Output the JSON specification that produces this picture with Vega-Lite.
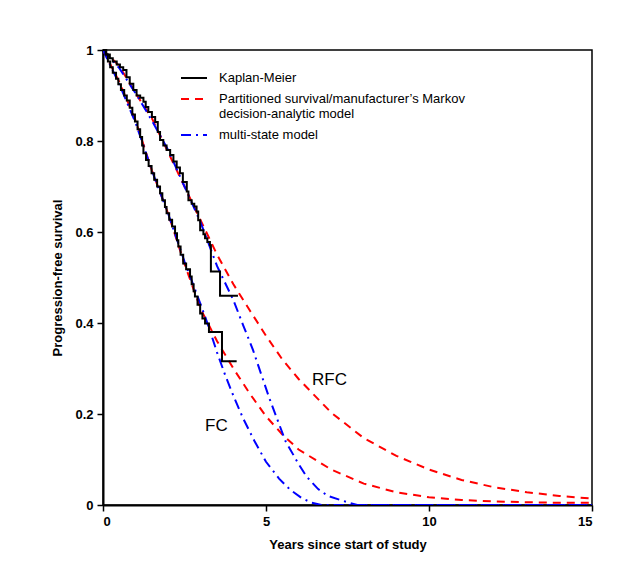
{
  "$schema": "https://vega.github.io/schema/vega-lite/v6.json",
  "width": 489,
  "height": 455,
  "autosize": {"type": "none"},
  "padding": {"left": 103, "top": 50, "right": 49, "bottom": 69},
  "background": "white",
  "config": {
    "font": "Liberation Sans",
    "view": {"stroke": "black", "strokeWidth": 1.5},
    "axis": {
      "grid": false,
      "domainColor": "black",
      "domainWidth": 2,
      "tickColor": "black",
      "tickWidth": 1.5,
      "tickSize": 6,
      "labelFont": "Liberation Sans",
      "labelFontWeight": "bold",
      "labelFontSize": 13,
      "labelColor": "black",
      "labelPadding": 4,
      "titleFont": "Liberation Sans",
      "titleFontWeight": "bold",
      "titleFontSize": 13,
      "titleColor": "black"
    }
  },
  "datasets": {
    "km": [
      {"arm": "FC", "model": "KM", "t": 0, "s": 1},
      {"arm": "FC", "model": "KM", "t": 0.08, "s": 0.99},
      {"arm": "FC", "model": "KM", "t": 0.15, "s": 0.975},
      {"arm": "FC", "model": "KM", "t": 0.22, "s": 0.962},
      {"arm": "FC", "model": "KM", "t": 0.3, "s": 0.95},
      {"arm": "FC", "model": "KM", "t": 0.4, "s": 0.937},
      {"arm": "FC", "model": "KM", "t": 0.47, "s": 0.925},
      {"arm": "FC", "model": "KM", "t": 0.55, "s": 0.912},
      {"arm": "FC", "model": "KM", "t": 0.65, "s": 0.9},
      {"arm": "FC", "model": "KM", "t": 0.73, "s": 0.889},
      {"arm": "FC", "model": "KM", "t": 0.82, "s": 0.873},
      {"arm": "FC", "model": "KM", "t": 0.9, "s": 0.858},
      {"arm": "FC", "model": "KM", "t": 0.98, "s": 0.843},
      {"arm": "FC", "model": "KM", "t": 1.06, "s": 0.826},
      {"arm": "FC", "model": "KM", "t": 1.14, "s": 0.809},
      {"arm": "FC", "model": "KM", "t": 1.2, "s": 0.79},
      {"arm": "FC", "model": "KM", "t": 1.24, "s": 0.773},
      {"arm": "FC", "model": "KM", "t": 1.32, "s": 0.758},
      {"arm": "FC", "model": "KM", "t": 1.4, "s": 0.745},
      {"arm": "FC", "model": "KM", "t": 1.49, "s": 0.729},
      {"arm": "FC", "model": "KM", "t": 1.57, "s": 0.715},
      {"arm": "FC", "model": "KM", "t": 1.66, "s": 0.7},
      {"arm": "FC", "model": "KM", "t": 1.75, "s": 0.685},
      {"arm": "FC", "model": "KM", "t": 1.82, "s": 0.67},
      {"arm": "FC", "model": "KM", "t": 1.9, "s": 0.655},
      {"arm": "FC", "model": "KM", "t": 1.95, "s": 0.641},
      {"arm": "FC", "model": "KM", "t": 2.03, "s": 0.627},
      {"arm": "FC", "model": "KM", "t": 2.12, "s": 0.612},
      {"arm": "FC", "model": "KM", "t": 2.21, "s": 0.597},
      {"arm": "FC", "model": "KM", "t": 2.27, "s": 0.582},
      {"arm": "FC", "model": "KM", "t": 2.31, "s": 0.568},
      {"arm": "FC", "model": "KM", "t": 2.38, "s": 0.55},
      {"arm": "FC", "model": "KM", "t": 2.46, "s": 0.531},
      {"arm": "FC", "model": "KM", "t": 2.55, "s": 0.518},
      {"arm": "FC", "model": "KM", "t": 2.67, "s": 0.502},
      {"arm": "FC", "model": "KM", "t": 2.72, "s": 0.485},
      {"arm": "FC", "model": "KM", "t": 2.78, "s": 0.47},
      {"arm": "FC", "model": "KM", "t": 2.82, "s": 0.458},
      {"arm": "FC", "model": "KM", "t": 2.9, "s": 0.44},
      {"arm": "FC", "model": "KM", "t": 2.98, "s": 0.421},
      {"arm": "FC", "model": "KM", "t": 3.05, "s": 0.41},
      {"arm": "FC", "model": "KM", "t": 3.13, "s": 0.399},
      {"arm": "FC", "model": "KM", "t": 3.25, "s": 0.38},
      {"arm": "FC", "model": "KM", "t": 3.65, "s": 0.316},
      {"arm": "FC", "model": "KM", "t": 4.1, "s": 0.316},
      {"arm": "RFC", "model": "KM", "t": 0, "s": 1},
      {"arm": "RFC", "model": "KM", "t": 0.1, "s": 0.99},
      {"arm": "RFC", "model": "KM", "t": 0.21, "s": 0.982},
      {"arm": "RFC", "model": "KM", "t": 0.3, "s": 0.975},
      {"arm": "RFC", "model": "KM", "t": 0.42, "s": 0.968},
      {"arm": "RFC", "model": "KM", "t": 0.52, "s": 0.962},
      {"arm": "RFC", "model": "KM", "t": 0.62, "s": 0.956},
      {"arm": "RFC", "model": "KM", "t": 0.72, "s": 0.94},
      {"arm": "RFC", "model": "KM", "t": 0.82, "s": 0.926},
      {"arm": "RFC", "model": "KM", "t": 0.93, "s": 0.912},
      {"arm": "RFC", "model": "KM", "t": 1.03, "s": 0.9},
      {"arm": "RFC", "model": "KM", "t": 1.14, "s": 0.895},
      {"arm": "RFC", "model": "KM", "t": 1.24, "s": 0.886},
      {"arm": "RFC", "model": "KM", "t": 1.31, "s": 0.875},
      {"arm": "RFC", "model": "KM", "t": 1.39, "s": 0.864},
      {"arm": "RFC", "model": "KM", "t": 1.5, "s": 0.853},
      {"arm": "RFC", "model": "KM", "t": 1.6, "s": 0.842},
      {"arm": "RFC", "model": "KM", "t": 1.68, "s": 0.82},
      {"arm": "RFC", "model": "KM", "t": 1.75, "s": 0.802},
      {"arm": "RFC", "model": "KM", "t": 1.85, "s": 0.79},
      {"arm": "RFC", "model": "KM", "t": 1.95, "s": 0.78},
      {"arm": "RFC", "model": "KM", "t": 2.06, "s": 0.769},
      {"arm": "RFC", "model": "KM", "t": 2.16, "s": 0.755},
      {"arm": "RFC", "model": "KM", "t": 2.26, "s": 0.742},
      {"arm": "RFC", "model": "KM", "t": 2.36, "s": 0.729},
      {"arm": "RFC", "model": "KM", "t": 2.45, "s": 0.71},
      {"arm": "RFC", "model": "KM", "t": 2.57, "s": 0.689},
      {"arm": "RFC", "model": "KM", "t": 2.62, "s": 0.67},
      {"arm": "RFC", "model": "KM", "t": 2.72, "s": 0.662},
      {"arm": "RFC", "model": "KM", "t": 2.8, "s": 0.656},
      {"arm": "RFC", "model": "KM", "t": 2.87, "s": 0.645},
      {"arm": "RFC", "model": "KM", "t": 2.92, "s": 0.626},
      {"arm": "RFC", "model": "KM", "t": 2.98, "s": 0.604},
      {"arm": "RFC", "model": "KM", "t": 3.08, "s": 0.595},
      {"arm": "RFC", "model": "KM", "t": 3.13, "s": 0.586},
      {"arm": "RFC", "model": "KM", "t": 3.2, "s": 0.578},
      {"arm": "RFC", "model": "KM", "t": 3.28, "s": 0.571},
      {"arm": "RFC", "model": "KM", "t": 3.31, "s": 0.513},
      {"arm": "RFC", "model": "KM", "t": 3.59, "s": 0.46},
      {"arm": "RFC", "model": "KM", "t": 4.14, "s": 0.46}
    ],
    "models": [
      {"arm": "FC", "model": "PS", "t": 0, "s": 1},
      {"arm": "FC", "model": "PS", "t": 0.5, "s": 0.93},
      {"arm": "FC", "model": "PS", "t": 1, "s": 0.845},
      {"arm": "FC", "model": "PS", "t": 1.5, "s": 0.735},
      {"arm": "FC", "model": "PS", "t": 2, "s": 0.64},
      {"arm": "FC", "model": "PS", "t": 2.5, "s": 0.53},
      {"arm": "FC", "model": "PS", "t": 3, "s": 0.43},
      {"arm": "FC", "model": "PS", "t": 3.5, "s": 0.36},
      {"arm": "FC", "model": "PS", "t": 4, "s": 0.3},
      {"arm": "FC", "model": "PS", "t": 4.5, "s": 0.245},
      {"arm": "FC", "model": "PS", "t": 5, "s": 0.195},
      {"arm": "FC", "model": "PS", "t": 5.5, "s": 0.155},
      {"arm": "FC", "model": "PS", "t": 6, "s": 0.122},
      {"arm": "FC", "model": "PS", "t": 7, "s": 0.078},
      {"arm": "FC", "model": "PS", "t": 8, "s": 0.047},
      {"arm": "FC", "model": "PS", "t": 9, "s": 0.028},
      {"arm": "FC", "model": "PS", "t": 10, "s": 0.017},
      {"arm": "FC", "model": "PS", "t": 11, "s": 0.011},
      {"arm": "FC", "model": "PS", "t": 12, "s": 0.008},
      {"arm": "FC", "model": "PS", "t": 13, "s": 0.006},
      {"arm": "FC", "model": "PS", "t": 14, "s": 0.005},
      {"arm": "FC", "model": "PS", "t": 15, "s": 0.005},
      {"arm": "RFC", "model": "PS", "t": 0, "s": 1},
      {"arm": "RFC", "model": "PS", "t": 0.5, "s": 0.965},
      {"arm": "RFC", "model": "PS", "t": 1, "s": 0.905},
      {"arm": "RFC", "model": "PS", "t": 1.5, "s": 0.85},
      {"arm": "RFC", "model": "PS", "t": 2, "s": 0.775},
      {"arm": "RFC", "model": "PS", "t": 2.5, "s": 0.7},
      {"arm": "RFC", "model": "PS", "t": 3, "s": 0.625},
      {"arm": "RFC", "model": "PS", "t": 3.5, "s": 0.55},
      {"arm": "RFC", "model": "PS", "t": 4, "s": 0.485},
      {"arm": "RFC", "model": "PS", "t": 4.5, "s": 0.428},
      {"arm": "RFC", "model": "PS", "t": 5, "s": 0.372},
      {"arm": "RFC", "model": "PS", "t": 5.5, "s": 0.32},
      {"arm": "RFC", "model": "PS", "t": 6, "s": 0.277},
      {"arm": "RFC", "model": "PS", "t": 7, "s": 0.203},
      {"arm": "RFC", "model": "PS", "t": 8, "s": 0.147},
      {"arm": "RFC", "model": "PS", "t": 9, "s": 0.108},
      {"arm": "RFC", "model": "PS", "t": 10, "s": 0.078},
      {"arm": "RFC", "model": "PS", "t": 11, "s": 0.055},
      {"arm": "RFC", "model": "PS", "t": 12, "s": 0.039},
      {"arm": "RFC", "model": "PS", "t": 13, "s": 0.028},
      {"arm": "RFC", "model": "PS", "t": 14, "s": 0.02},
      {"arm": "RFC", "model": "PS", "t": 15, "s": 0.014},
      {"arm": "FC", "model": "MS", "t": 0, "s": 1},
      {"arm": "FC", "model": "MS", "t": 0.5, "s": 0.925},
      {"arm": "FC", "model": "MS", "t": 1, "s": 0.84},
      {"arm": "FC", "model": "MS", "t": 1.5, "s": 0.735},
      {"arm": "FC", "model": "MS", "t": 2, "s": 0.64},
      {"arm": "FC", "model": "MS", "t": 2.5, "s": 0.535},
      {"arm": "FC", "model": "MS", "t": 3, "s": 0.44},
      {"arm": "FC", "model": "MS", "t": 3.25, "s": 0.39},
      {"arm": "FC", "model": "MS", "t": 3.5, "s": 0.335},
      {"arm": "FC", "model": "MS", "t": 3.75, "s": 0.285},
      {"arm": "FC", "model": "MS", "t": 4, "s": 0.24},
      {"arm": "FC", "model": "MS", "t": 4.3, "s": 0.19},
      {"arm": "FC", "model": "MS", "t": 4.65, "s": 0.14},
      {"arm": "FC", "model": "MS", "t": 5, "s": 0.095},
      {"arm": "FC", "model": "MS", "t": 5.4, "s": 0.058},
      {"arm": "FC", "model": "MS", "t": 5.75, "s": 0.033},
      {"arm": "FC", "model": "MS", "t": 6.1, "s": 0.015},
      {"arm": "FC", "model": "MS", "t": 6.4, "s": 0.005},
      {"arm": "FC", "model": "MS", "t": 6.7, "s": 0},
      {"arm": "FC", "model": "MS", "t": 15, "s": 0},
      {"arm": "RFC", "model": "MS", "t": 0, "s": 1},
      {"arm": "RFC", "model": "MS", "t": 0.5, "s": 0.96},
      {"arm": "RFC", "model": "MS", "t": 1, "s": 0.905},
      {"arm": "RFC", "model": "MS", "t": 1.5, "s": 0.845},
      {"arm": "RFC", "model": "MS", "t": 2, "s": 0.78},
      {"arm": "RFC", "model": "MS", "t": 2.5, "s": 0.7},
      {"arm": "RFC", "model": "MS", "t": 3, "s": 0.62},
      {"arm": "RFC", "model": "MS", "t": 3.5, "s": 0.525},
      {"arm": "RFC", "model": "MS", "t": 4, "s": 0.45},
      {"arm": "RFC", "model": "MS", "t": 4.3, "s": 0.395},
      {"arm": "RFC", "model": "MS", "t": 4.6, "s": 0.341},
      {"arm": "RFC", "model": "MS", "t": 5.1, "s": 0.235},
      {"arm": "RFC", "model": "MS", "t": 5.6, "s": 0.14},
      {"arm": "RFC", "model": "MS", "t": 6, "s": 0.09},
      {"arm": "RFC", "model": "MS", "t": 6.25, "s": 0.062},
      {"arm": "RFC", "model": "MS", "t": 6.6, "s": 0.035},
      {"arm": "RFC", "model": "MS", "t": 6.9, "s": 0.02},
      {"arm": "RFC", "model": "MS", "t": 7.5, "s": 0.006},
      {"arm": "RFC", "model": "MS", "t": 7.8, "s": 0},
      {"arm": "RFC", "model": "MS", "t": 15, "s": 0}
    ],
    "labels": [
      {"label": "RFC", "t": 6.41, "s": 0.275},
      {"label": "FC", "t": 3.13, "s": 0.174}
    ]
  },
  "encoding": {
    "x": {
      "field": "t", "type": "quantitative",
      "scale": {"domain": [0, 15], "nice": false},
      "axis": {"values": [0, 5, 10, 15], "title": "Years since start of study", "titlePadding": 10}
    },
    "y": {
      "field": "s", "type": "quantitative",
      "scale": {"domain": [0, 1], "nice": false},
      "axis": {"values": [0, 0.2, 0.4, 0.6, 0.8, 1], "format": "~g", "title": "Progression-free survival", "titlePadding": 10}
    }
  },
  "layer": [
    {
      "data": {"name": "models"},
      "mark": {"type": "line", "strokeWidth": 2, "clip": true},
      "encoding": {
        "color": {
          "field": "model", "type": "nominal",
          "scale": {"domain": ["KM", "PS", "MS"], "range": ["black", "#ff0000", "#0000ff"]},
          "legend": {
            "title": null,
            "orient": "none",
            "legendX": 77,
            "legendY": 14,
            "symbolType": "stroke",
            "symbolSize": 676,
            "symbolStrokeWidth": 2,
            "labelFont": "Liberation Sans",
            "labelFontSize": 13,
            "labelColor": "black",
            "labelOffset": 11,
            "labelLimit": 400,
            "rowPadding": 0,
            "labelBaseline": "middle",
            "labelExpr": "datum.value == 'KM' ? 'Kaplan-Meier' : datum.value == 'PS' ? ['Partitioned survival/manufacturer\u2019s Markov', 'decision-analytic model'] : 'multi-state model'"
          }
        },
        "strokeDash": {
          "field": "model", "type": "nominal",
          "scale": {"domain": ["KM", "PS", "MS"], "range": [[1, 0], [8, 6], [10, 5, 2, 5]]},
          "legend": null
        },
        "detail": {"field": "arm"}
      }
    },
    {
      "data": {"name": "km"},
      "mark": {"type": "line", "interpolate": "step-after", "strokeWidth": 2, "color": "black"},
      "encoding": {
        "detail": {"field": "arm"}
      }
    },
    {
      "data": {"name": "labels"},
      "mark": {"type": "text", "align": "left", "baseline": "middle", "fontSize": 17, "font": "Liberation Sans", "color": "black"},
      "encoding": {
        "text": {"field": "label"}
      }
    }
  ]
}
